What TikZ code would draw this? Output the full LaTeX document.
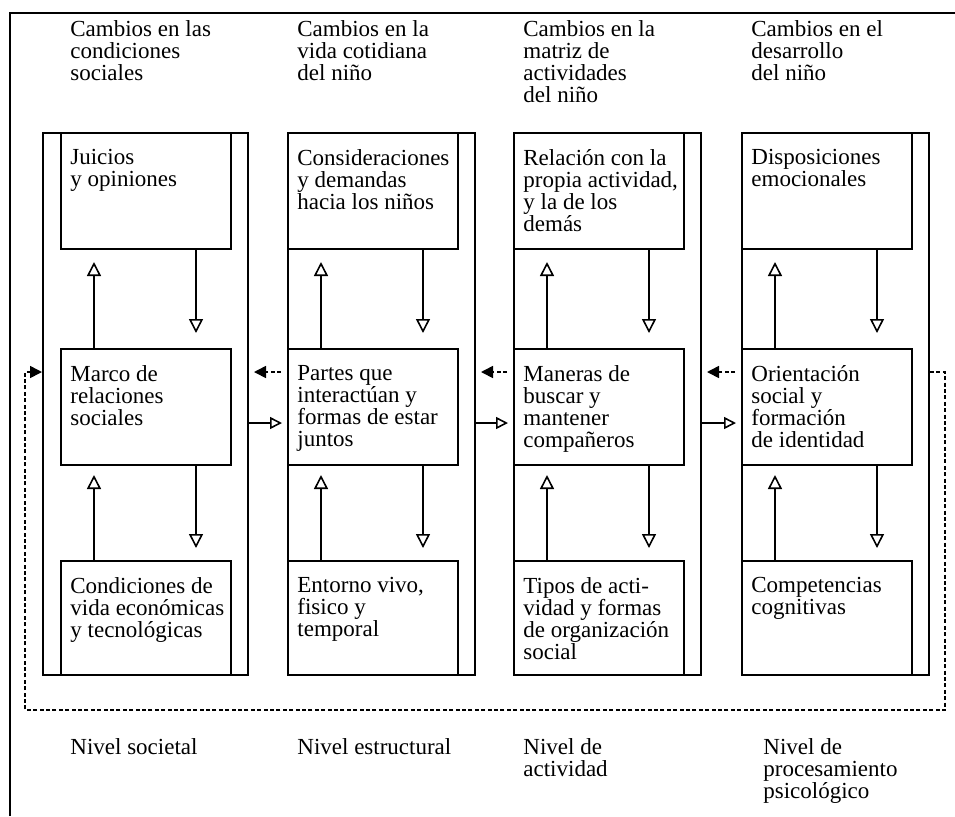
\documentclass[tikz,border=0pt]{standalone}
\usepackage{fontspec}
\setmainfont{Liberation Serif}
\usetikzlibrary{arrows.meta,calc}

\tikzset{
  box/.style={draw, line width=1pt, anchor=north west, minimum width=85pt, minimum height=58pt, inner sep=0pt},
  colframe/.style={draw, line width=1pt, anchor=north west, minimum width=93.5pt, minimum height=271pt, inner sep=0pt},
  txt/.style={anchor=north west, align=left, inner sep=0pt, font=\fontsize{11.5}{11}\selectfont, execute at begin node=\strut},
  inlbl/.style={txt, xshift=5pt, yshift=-8.5pt},
  vert/.style={line width=0.8pt, -{Triangle[open, length=7pt, width=7pt]}},
  harr/.style={line width=0.8pt, -{Triangle[open, length=6pt, width=6pt]}, shorten >=2.5pt},
  darr/.style={line width=0.8pt, dash pattern=on 2pt off 1.2pt, -{Triangle[length=6pt, width=6pt]}, shorten <=3pt, shorten >=2.5pt},
  fbarr/.style={line width=0.8pt, dash pattern=on 2pt off 1.2pt, -{Triangle[length=6pt, width=6pt]}}
}

\begin{document}
\begin{tikzpicture}[x=0.5pt, y=-0.5pt]
\useasboundingbox (0,0) rectangle (955,816);
% outer frame
\draw[line width=1.2pt] (10,816) -- (10,13) -- (955,13);

% column frames
\node[colframe, minimum width=102.5pt] (f1) at (42,132) {};
\node[colframe] (f2) at (287,132) {};
\node[colframe] (f3) at (513,132) {};
\node[colframe] (f4) at (741,132) {};

% headers
\node[txt] (h1) at (70,20) {Cambios en las\\condiciones\\sociales};
\node[txt] (h2) at (297,20) {Cambios en la\\vida cotidiana\\del niño};
\node[txt] (h3) at (523,20) {Cambios en la\\matriz de\\actividades\\del niño};
\node[txt] (h4) at (751,20) {Cambios en el\\desarrollo\\del niño};

% top row
\node[box, label={[inlbl]north west:{Juicios\\y opiniones}}] (t1) at (60,132) {};
\node[box, label={[inlbl]north west:{Consideraciones\\y demandas\\hacia los niños}}] (t2) at (287,132) {};
\node[box, label={[inlbl]north west:{Relación con la\\propia actividad,\\y la de los\\demás}}] (t3) at (513,132) {};
\node[box, label={[inlbl]north west:{Disposiciones\\emocionales}}] (t4) at (741,132) {};

% middle row
\node[box, label={[inlbl]north west:{Marco de\\relaciones\\sociales}}] (m1) at (60,348) {};
\node[box, label={[inlbl]north west:{Partes que\\interactúan y\\formas de estar\\juntos}}] (m2) at (287,348) {};
\node[box, label={[inlbl]north west:{Maneras de\\buscar y\\mantener\\compañeros}}] (m3) at (513,348) {};
\node[box, label={[inlbl]north west:{Orientación\\social y\\formación\\de identidad}}] (m4) at (741,348) {};

% bottom row
\node[box, minimum height=57pt, label={[inlbl]north west:{Condiciones de\\vida económicas\\y tecnológicas}}] (b1) at (60,560) {};
\node[box, minimum height=57pt, label={[inlbl]north west:{Entorno vivo,\\fisico y\\temporal}}] (b2) at (287,560) {};
\node[box, minimum height=57pt, label={[inlbl]north west:{Tipos de acti-\\vidad y formas\\de organización\\social}}] (b3) at (513,560) {};
\node[box, minimum height=57pt, label={[inlbl]north west:{Competencias\\cognitivas}}] (b4) at (741,560) {};

% levels
\node[txt] (n1) at (70,738) {Nivel societal};
\node[txt] (n2) at (297,738) {Nivel estructural};
\node[txt] (n3) at (523,738) {Nivel de\\actividad};
\node[txt] (n4) at (763,738) {Nivel de\\procesamiento\\psicológico};

% arrows inside the columns
\draw[vert, shorten >=6pt] ($(m1.north west)+(34,0)$) -- ($(t1.south west)+(34,0)$);
\draw[vert, shorten >=7.5pt] ($(t1.south west)+(136,0)$) -- ($(m1.north west)+(136,0)$);
\draw[vert, shorten >=4.5pt] ($(b1.north west)+(34,0)$) -- ($(m1.south west)+(34,0)$);
\draw[vert, shorten >=6pt] ($(m1.south west)+(136,0)$) -- ($(b1.north west)+(136,0)$);

\draw[vert, shorten >=6pt] ($(m2.north west)+(34,0)$) -- ($(t2.south west)+(34,0)$);
\draw[vert, shorten >=7.5pt] ($(t2.south west)+(136,0)$) -- ($(m2.north west)+(136,0)$);
\draw[vert, shorten >=4.5pt] ($(b2.north west)+(34,0)$) -- ($(m2.south west)+(34,0)$);
\draw[vert, shorten >=6pt] ($(m2.south west)+(136,0)$) -- ($(b2.north west)+(136,0)$);

\draw[vert, shorten >=6pt] ($(m3.north west)+(34,0)$) -- ($(t3.south west)+(34,0)$);
\draw[vert, shorten >=7.5pt] ($(t3.south west)+(136,0)$) -- ($(m3.north west)+(136,0)$);
\draw[vert, shorten >=4.5pt] ($(b3.north west)+(34,0)$) -- ($(m3.south west)+(34,0)$);
\draw[vert, shorten >=6pt] ($(m3.south west)+(136,0)$) -- ($(b3.north west)+(136,0)$);

\draw[vert, shorten >=6pt] ($(m4.north west)+(34,0)$) -- ($(t4.south west)+(34,0)$);
\draw[vert, shorten >=7.5pt] ($(t4.south west)+(136,0)$) -- ($(m4.north west)+(136,0)$);
\draw[vert, shorten >=4.5pt] ($(b4.north west)+(34,0)$) -- ($(m4.south west)+(34,0)$);
\draw[vert, shorten >=6pt] ($(m4.south west)+(136,0)$) -- ($(b4.north west)+(136,0)$);

% arrows between the columns
\draw[harr] ($(m1.north -| f1.east)+(0,75)$) -- ($(m2.north west)+(0,75)$);
\draw[darr] ($(m2.north west)+(0,24)$) -- ($(m1.north -| f1.east)+(0,24)$);
\draw[harr] ($(m2.north -| f2.east)+(0,75)$) -- ($(m3.north west)+(0,75)$);
\draw[darr] ($(m3.north west)+(0,24)$) -- ($(m2.north -| f2.east)+(0,24)$);
\draw[harr] ($(m3.north -| f3.east)+(0,75)$) -- ($(m4.north west)+(0,75)$);
\draw[darr] ($(m4.north west)+(0,24)$) -- ($(m3.north -| f3.east)+(0,24)$);

% feedback loop
\draw[fbarr] ($(m4.north -| f4.east)+(0,24)$) -- ++(15,0) |- ($(f1.south west)+(-17,34)$) |- ($(m1.north -| f1.west)+(0,24)$);
\end{tikzpicture}
\end{document}
